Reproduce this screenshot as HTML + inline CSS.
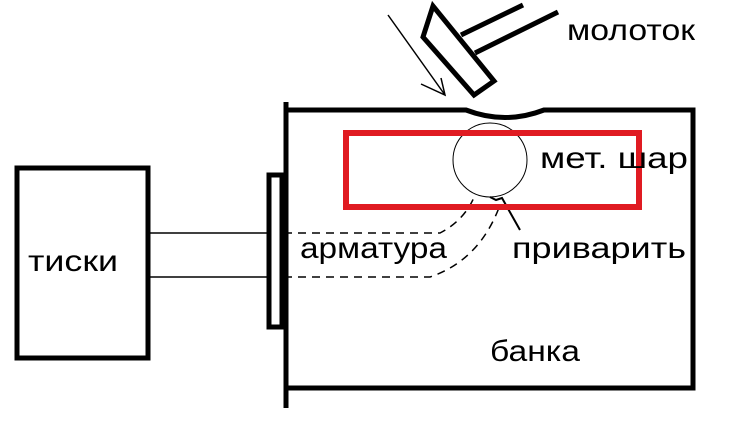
<html><body style="margin:0;background:#fff;width:737px;height:433px;overflow:hidden">
<svg width="737" height="433" xmlns="http://www.w3.org/2000/svg" font-family="Liberation Sans, sans-serif">
<rect x="17" y="168" width="131" height="190" fill="none" stroke="#000" stroke-width="5"/>
<text x="28" y="271" font-size="30" textLength="90" lengthAdjust="spacingAndGlyphs">тиски</text>
<line x1="150" y1="233" x2="270" y2="233" stroke="#000" stroke-width="1.5"/>
<line x1="150" y1="277" x2="270" y2="277" stroke="#000" stroke-width="1.5"/>
<rect x="269" y="175" width="13" height="152" fill="none" stroke="#000" stroke-width="5"/>
<line x1="286" y1="102" x2="286" y2="408" stroke="#000" stroke-width="5"/>
<path d="M286 110 H466 Q505 125 544 110 H693 V388 H286" fill="none" stroke="#000" stroke-width="5"/>
<circle cx="490" cy="160" r="37" fill="none" stroke="#000" stroke-width="1"/>
<path d="M284 233 H440 Q465 220 475 195" fill="none" stroke="#000" stroke-width="1.5" stroke-dasharray="8,6"/>
<path d="M284 277 H430 Q480 260 500 205" fill="none" stroke="#000" stroke-width="1.5" stroke-dasharray="8,6"/>
<path d="M490 197 L496 200 L502 198 L520 230" fill="none" stroke="#000" stroke-width="2"/>
<rect x="346" y="133" width="293" height="74" fill="none" stroke="#e01b22" stroke-width="6"/>
<text x="540" y="168" font-size="30" textLength="148" lengthAdjust="spacingAndGlyphs">мет. шар</text>
<text x="300" y="258" font-size="30" textLength="147" lengthAdjust="spacingAndGlyphs">арматура</text>
<text x="512" y="258" font-size="30" textLength="174" lengthAdjust="spacingAndGlyphs">приварить</text>
<text x="490" y="361" font-size="30" textLength="90" lengthAdjust="spacingAndGlyphs">банка</text>
<text x="567" y="40" font-size="30" textLength="128" lengthAdjust="spacingAndGlyphs">молоток</text>
<polygon points="433,6 423,37 474,95 494,81" fill="none" stroke="#000" stroke-width="5"/>
<line x1="461" y1="35" x2="523" y2="5" stroke="#000" stroke-width="5"/>
<line x1="475" y1="53" x2="558" y2="12" stroke="#000" stroke-width="5"/>
<line x1="388" y1="15" x2="445" y2="95" stroke="#000" stroke-width="1.5"/>
<path d="M421 84 L445 95 L441 78" fill="none" stroke="#000" stroke-width="1.5"/>
</svg>
</body></html>
